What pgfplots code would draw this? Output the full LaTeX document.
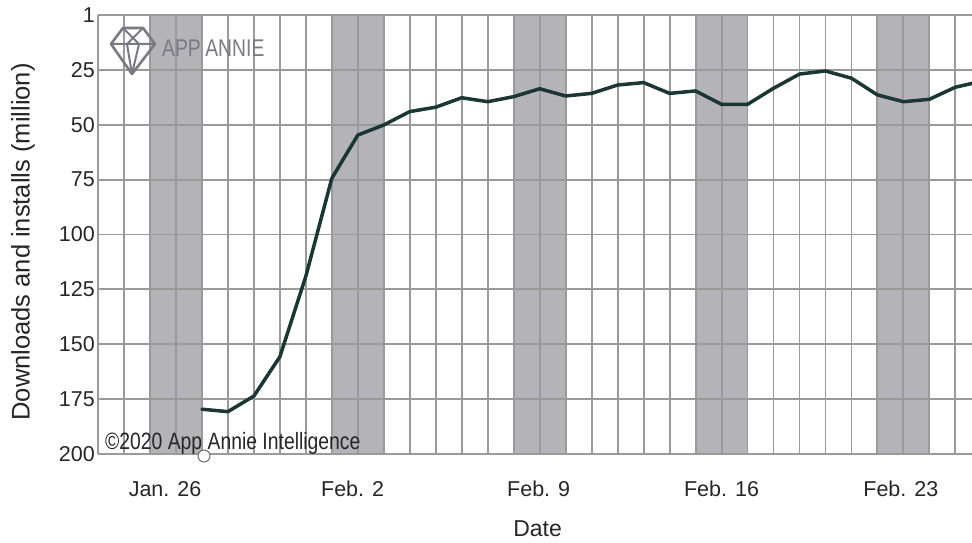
\documentclass[border=0pt]{standalone}
\usepackage{fontspec}
\setmainfont{Liberation Sans}
\usepackage{pgfplots}
\pgfplotsset{compat=1.18}
\definecolor{band}{HTML}{B4B4B8}
\definecolor{gridc}{HTML}{9A9A9A}
\definecolor{linec}{HTML}{1B3634}
\definecolor{logoc}{HTML}{7A7A84}
\definecolor{txt}{HTML}{262626}
\begin{document}
\begin{tikzpicture}
\begin{axis}[name=ax, set layers=standard,
  scale only axis, width=874pt, height=439pt,
  xmin=-3, xmax=30.64, ymin=0, ymax=200, y dir=reverse,
  axis line style={draw=none},
  xtick={-0.42,6.8,13.96,21,27.9}, xticklabels={Jan. 26, Feb. 2, Feb. 9, Feb. 16, Feb. 23},
  minor xtick={-3,...,30},
  ytick={0,25,...,200}, yticklabels={1,25,50,75,100,125,150,175,200},
  major tick length=0pt, minor tick length=0pt,
  xmajorgrids=false, xminorgrids=true, ymajorgrids=true,
  major grid style={gridc, line width=1.9pt},
  minor grid style={gridc, line width=1.9pt},
  tick label style={font=\fontsize{21.5}{24}\selectfont, text=txt, inner sep=0pt},
  xticklabel shift=27pt, yticklabel shift=3pt,
  ylabel={Downloads and installs (million)}, xlabel={Date},
  every axis y label/.style={at={(axis description cs:-0.0858,0.483)}, rotate=90, anchor=center, font=\fontsize{25.5}{28}\selectfont, text=txt},
  every axis x label/.style={at={(axis description cs:0.503,-0.189)}, anchor=base, font=\fontsize{23}{26}\selectfont, text=txt},
]
% weekend bands
\addplot[on layer=axis background, ybar interval, fill=band, draw=none]
  coordinates {(-1,200) (1,0) (6,200) (8,0) (13,200) (15,0) (20,200) (22,0) (27,200) (29,0) (30,0)};
% series
\addplot[linec, line width=3.5pt, line join=round, line cap=round] coordinates {
(1,179.6) (2,180.7) (3,173.6) (4,155.7) (5,119) (6,74.4) (7,54.7) (8,50.1)
(9,44) (10,42) (11,37.7) (12,39.5) (13,37.2) (14,33.6) (15,36.9) (16,35.7)
(17,31.9) (18,30.8) (19,35.7) (20,34.6) (21,40.7) (22,40.7) (23,33.4) (24,26.9)
(25,25.5) (26,28.8) (27,36.4) (28,39.5) (29,38.4) (30,32.9) (31,30.2)};
\end{axis}
\begin{scope}[shift={(ax.north west)}, x=1pt, y=1pt]
  % logo icon
  \draw[logoc, line width=2.6pt, line join=round]
    (25,-13) -- (45,-13) -- (57,-29) -- (34,-59) -- (13,-29) -- cycle;
  \draw[logoc, line width=2pt, line join=round]
    (13,-29) -- (57,-29)
    (25,-13) -- (41,-29) -- (34,-59)
    (45,-13) -- (29,-29) -- (34,-59);
  \node[anchor=base west, inner sep=0pt, xscale=0.84, yscale=1.05, text=logoc, font=\fontsize{23}{26}\selectfont] at (64,-41.7) {APP\kern-1pt\ ANNIE};
  % copyright
  \node[anchor=base west, inner sep=0pt, xscale=0.86, yscale=1.05, text=txt, font=\fontsize{22.5}{25}\selectfont] at (7,-434) {©2020 App Annie Intelligence};
  % small pin
  \draw[gridc!70!black, line width=1pt, fill=white] (106,-441) circle (6);
\end{scope}
\pgfresetboundingbox
\path[use as bounding box] (ax.north west) ++(-98pt,15pt) rectangle ++(972pt,-542pt);
\end{tikzpicture}
\end{document}
